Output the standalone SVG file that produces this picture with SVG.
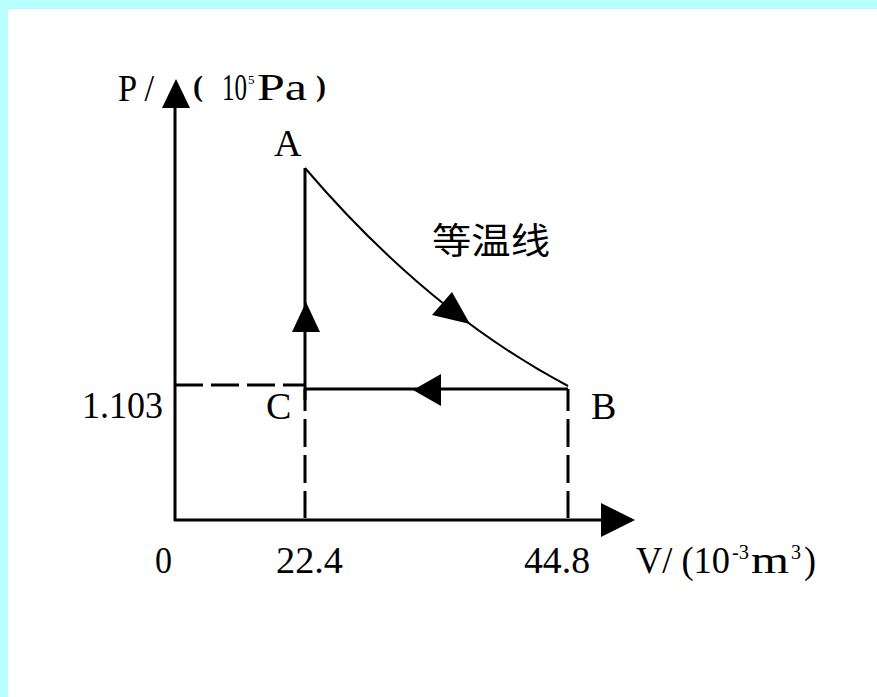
<svg xmlns="http://www.w3.org/2000/svg" width="877" height="697" viewBox="0 0 877 697">
<style>
.t{font-family:"Liberation Serif","Times New Roman",serif;fill:#000;font-size:38px}
.cjk{font-family:"Noto Sans CJK SC","Noto Sans",sans-serif;fill:#000;font-size:36px}
.ax{stroke:#000;stroke-width:3;fill:none}
.dash{stroke:#000;stroke-width:3;fill:none;stroke-dasharray:28 8}
.iso{stroke:#000;stroke-width:2;fill:none}
.ah{fill:#000;stroke:none}
</style>
<rect x="0" y="0" width="877" height="697" fill="#ffffff"/>
<rect x="0" y="0" width="877" height="9" fill="#b8ffff"/>
<rect x="0" y="0" width="8" height="697" fill="#b8ffff"/>

<g id="connectors">
  <line class="ax" x1="175" y1="521" x2="175" y2="100"/>
  <polygon class="ah" points="176,79 162,108 190,108"/>
  <line class="ax" x1="174" y1="520" x2="605" y2="520"/>
  <polygon class="ah" points="635,520 601,503 601,537"/>
  <line class="dash" x1="175" y1="385" x2="305" y2="385"/>
  <line class="dash" x1="305" y1="389" x2="305" y2="518" stroke-dashoffset="-30"/>
  <line class="dash" x1="568" y1="389" x2="568" y2="518" stroke-dashoffset="-30"/>
  <line class="ax" x1="305" y1="168" x2="305" y2="400"/>
  <polygon class="ah" points="306,302 292,332 320,332"/>
  <line class="ax" x1="305" y1="389" x2="568" y2="389"/>
  <polygon class="ah" points="413,390 441,374 441,406"/>
  <path class="iso" d="M305,168 Q428,312 568,386"/>
  <polygon class="ah" points="452,292 432,315 470,324"/>
</g>

<g id="axis-labels">
  <text class="t" x="118" y="101" textLength="36" lengthAdjust="spacingAndGlyphs">P /</text>
  <text class="t" x="193" y="96" style="font-weight:bold;font-size:30px">(</text>
  <text class="t" x="222" y="100"><tspan textLength="25" lengthAdjust="spacingAndGlyphs">10</tspan><tspan x="248" y="84" style="font-size:13px">5</tspan><tspan x="257" y="100" textLength="50" lengthAdjust="spacingAndGlyphs">Pa</tspan></text>
  <text class="t" x="316" y="96" style="font-weight:bold;font-size:30px">)</text>
  <text class="t" x="82" y="418" textLength="81" lengthAdjust="spacingAndGlyphs">1.103</text>
  <text class="t" x="155" y="573" textLength="17" lengthAdjust="spacingAndGlyphs">0</text>
  <text class="t" x="276" y="573" textLength="67" lengthAdjust="spacingAndGlyphs">22.4</text>
  <text class="t" x="524" y="573" textLength="66" lengthAdjust="spacingAndGlyphs">44.8</text>
  <text class="t" x="636" y="573"><tspan textLength="94" lengthAdjust="spacingAndGlyphs">V/ (10</tspan><tspan x="732" y="559" style="font-size:20px" textLength="17" lengthAdjust="spacingAndGlyphs">-3</tspan><tspan x="751" y="573" textLength="38" lengthAdjust="spacingAndGlyphs">m</tspan><tspan x="791" y="559" style="font-size:20px">3</tspan><tspan x="804" y="573" textLength="12" lengthAdjust="spacingAndGlyphs">)</tspan></text>
</g>

<g id="node-A"><text class="t" x="274" y="156">A</text></g>
<g id="node-B"><text class="t" x="591" y="419">B</text></g>
<g id="node-C"><text class="t" x="266" y="419">C</text></g>
<g id="label-isotherm"><text class="cjk" x="432" y="254" textLength="118" lengthAdjust="spacingAndGlyphs">等温线</text></g>
</svg>
